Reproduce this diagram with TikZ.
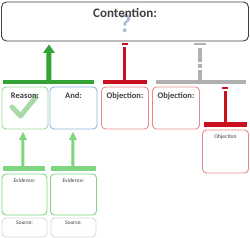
\documentclass[tikz,border=0pt]{standalone}
\usepackage{fontspec}
\setmainfont{Carlito}
\definecolor{bigGreen}{HTML}{33A336}
\definecolor{liteGreen}{HTML}{7ED67E}
\definecolor{boxGreen}{HTML}{9ED89E}
\definecolor{boxBlue}{HTML}{8DB4E2}
\definecolor{boxRed}{HTML}{E98A8A}
\definecolor{barRed}{HTML}{C8101E}
\definecolor{barGray}{HTML}{B0B0B0}
\definecolor{qBlue}{HTML}{A9B9D6}
\definecolor{chkGreen}{HTML}{A9D8A9}
\definecolor{txt}{HTML}{404040}
\begin{document}
\begin{tikzpicture}[x=1pt,y=-1pt,
  rbox/.style={draw, rounded corners=4pt, line width=0.9pt, fill=white, inner sep=0pt},
  lbl/.style={font=\bfseries\fontsize{8.5}{9}\selectfont, text=txt, inner sep=0pt},
  slbl/.style={font=\fontsize{5.6}{6}\selectfont, text=txt, inner sep=0pt}]
\useasboundingbox (0,0) rectangle (250,238);
% contention
\node[rbox, draw=black!75, minimum width=247pt, minimum height=39pt, rounded corners=5pt] (cont) at (125,21.5) {};
\node[text=qBlue, font=\bfseries\fontsize{26}{26}\selectfont, inner sep=0pt] (q) at (125.5,24) {?};
\node[font=\bfseries\fontsize{13}{14}\selectfont, text=txt, inner sep=0pt] (ctext) at (125,13) {Contention:};
% row boxes
\node[rbox, draw=boxGreen, minimum width=46pt, minimum height=42pt] (reason) at (25,108) {};
\node[rbox, draw=boxBlue, minimum width=47pt, minimum height=42pt] (and) at (73.5,108) {};
\node[rbox, draw=boxRed, minimum width=47pt, minimum height=42pt] (obj1) at (125,108) {};
\node[rbox, draw=boxRed, minimum width=47pt, minimum height=42pt] (obj2) at (176,108) {};
\node[rbox, draw=boxRed, minimum width=46pt, minimum height=43pt] (obj3) at (225.5,151.5) {};
% check mark
\draw[chkGreen, line width=5pt, line cap=round, line join=round] (12,107) -- (20.5,116) -- (36,97);
% labels
\node[lbl] (lreason) at (reason.north |- 0,96) {Reason:};
\node[lbl] (land) at (and.north |- 0,96) {And:};
\node[lbl] (lobj1) at (obj1.north |- 0,96) {Objection:};
\node[lbl] (lobj2) at (obj2.north |- 0,96) {Objection:};
\node[slbl] (lobj3) at (obj3.north |- 0,137) {Objection};
% evidence and source
\node[rbox, draw=liteGreen, minimum width=45pt, minimum height=41pt] (ev1) at (24.5,194.5) {};
\node[rbox, draw=liteGreen, minimum width=46pt, minimum height=41pt] (ev2) at (73.5,194.5) {};
\node[rbox, draw=black!15, minimum width=45pt, minimum height=19pt] (src1) at (24.5,227.5) {};
\node[rbox, draw=black!15, minimum width=45pt, minimum height=19pt] (src2) at (73.5,227.5) {};
\node[slbl] (lev1) at (ev1.north |- 0,181) {Evidence:};
\node[slbl] (lev2) at (ev2.north |- 0,181) {Evidence:};
\node[slbl] (lsrc1) at (src1.north |- 0,223) {Source:};
\node[slbl] (lsrc2) at (src2.north |- 0,223) {Source:};
% big green support arrow
\fill[bigGreen] (3,80) rectangle (94,84.5);
\fill[bigGreen] (46.5,80) -- (46.5,53) -- (43,53) -- (49,44.5) -- (55,53) -- (51.5,53) -- (51.5,80) -- cycle;
% red objection
\fill[barRed] (103,80) rectangle (147,84.5);
\fill[barRed] (123.5,47) rectangle (126.5,80);
\fill[barRed] (122.5,43.5) rectangle (128.5,45.5);
% gray objection
\fill[barGray] (156,80) rectangle (246,84.5);
\fill[barGray] (194.5,43.5) rectangle (206,45.5);
\draw[barGray, line width=4pt, dash pattern=on 14pt off 2pt on 4pt off 2pt on 20pt] (200.5,48) -- (200.5,80);
% right red objection
\fill[barRed] (204,122.5) rectangle (247,127.5);
\fill[barRed] (224.5,91.5) rectangle (227.5,122.5);
\fill[barRed] (222.5,87) rectangle (228.5,89);
% small green arrows
\fill[liteGreen] (3,166) rectangle (45,171);
\fill[liteGreen] (21.5,166) -- (21.5,140) -- (19,140) -- (23,132) -- (27,140) -- (24.5,140) -- (24.5,166) -- cycle;
\fill[liteGreen] (51,166) rectangle (96,171);
\fill[liteGreen] (71.5,166) -- (71.5,140) -- (69,140) -- (73,132) -- (77,140) -- (74.5,140) -- (74.5,166) -- cycle;
\end{tikzpicture}
\end{document}
